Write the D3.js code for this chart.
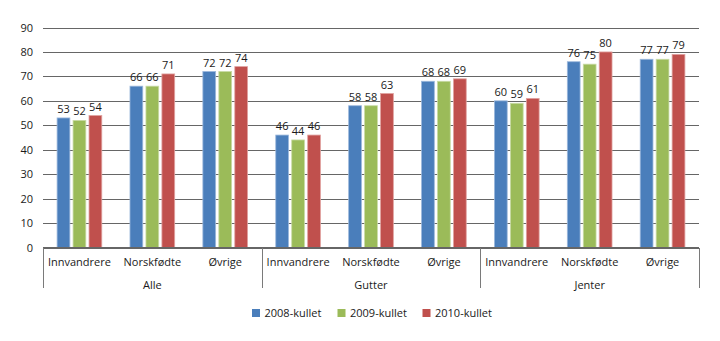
<!DOCTYPE html>
<html>
<head>
<meta charset="utf-8">
<script src="https://cdn.jsdelivr.net/npm/d3@7"></script>
<style>
  html, body { margin: 0; padding: 0; background: #fff; }
  svg { display: block; }
  text { font-family: "Open Sans", "Liberation Sans", sans-serif; fill: #1a1a1a; }
</style>
</head>
<body>
<svg id="chart" width="720" height="341"></svg>
<script>
// Groups and subgroups along the x axis
const groups = ["Alle", "Gutter", "Jenter"];
const subgroups = ["Innvandrere", "Norskfødte", "Øvrige"];
const series = ["2008-kullet", "2009-kullet", "2010-kullet"];
const colors = ["#4a7ebb", "#9bbb59", "#c0504d"];
const strokes = ["#9cb8dc", "#c9dba6", "#e0a2a0"];

// Values per series, ordered group by group, subgroup by subgroup
const v2008 = [53, 66, 72, 46, 58, 68, 60, 76, 77];
const v2009 = [52, 66, 72, 44, 58, 68, 59, 75, 77];
const v2010 = [54, 71, 74, 46, 63, 69, 61, 80, 79];
const yTicks = [0, 10, 20, 30, 40, 50, 60, 70, 80, 90];

const values = [v2008, v2009, v2010];
const cats = [];
groups.forEach(g => subgroups.forEach(s => cats.push({ group: g, sub: s, key: g + "|" + s })));

const svg = d3.select("#chart");
const plotL = 43, plotR = 699, plotT = 27.5, plotB = 247.5;
const gridColor = "#666";

const x = d3.scaleBand().domain(cats.map(c => c.key)).range([plotL, plotR]).paddingInner(0).paddingOuter(0);
const xs = d3.scaleBand().domain(series).range([-22.35, 22.35]).paddingInner(0.2).paddingOuter(0);
const y = d3.scaleLinear().domain([0, 90]).range([plotB, plotT]);

// Gridlines and y tick labels
const yAxis = d3.axisLeft(y).tickValues(yTicks).tickSize(-(plotR - plotL)).tickPadding(10).tickFormat(d3.format("d"));
const gy = svg.append("g").attr("transform", `translate(${plotL},0)`).call(yAxis);
gy.select(".domain").remove();
gy.selectAll(".tick line").attr("stroke", gridColor).attr("stroke-width", 1)
  .attr("shape-rendering", "crispEdges");
gy.selectAll(".tick text").attr("font-size", 11).attr("fill", "#1a1a1a")
  .attr("font-family", "'Open Sans', sans-serif");

// Bars with value labels
const barG = svg.append("g");
series.forEach((s, si) => {
  barG.selectAll(null).data(cats).enter().append("rect")
    .attr("x", (c) => x(c.key) + x.bandwidth() / 2 + xs(s))
    .attr("width", xs.bandwidth())
    .attr("y", (c, i) => y(values[si][i]))
    .attr("height", (c, i) => plotB - y(values[si][i]))
    .attr("fill", colors[si])
    .attr("stroke", strokes[si])
    .attr("stroke-width", 0.8);
  barG.selectAll(null).data(cats).enter().append("text")
    .attr("x", (c) => x(c.key) + x.bandwidth() / 2 + xs(s) + xs.bandwidth() / 2)
    .attr("y", (c, i) => y(values[si][i]) - 5)
    .attr("text-anchor", "middle")
    .attr("font-size", 11)
    .text((c, i) => values[si][i]);
});

// x axis line and category labels
const axisG = svg.append("g");
axisG.append("line").attr("x1", plotL).attr("x2", plotR).attr("y1", plotB).attr("y2", plotB)
  .attr("stroke", gridColor).attr("shape-rendering", "crispEdges");
cats.forEach(c => {
  axisG.append("text")
    .attr("x", x(c.key) + x.bandwidth() / 2)
    .attr("y", 265.5)
    .attr("text-anchor", "middle")
    .attr("font-size", 11)
    .text(c.sub);
});
// Group separators
const groupEdges = [0, 3, 6, 9].map(i => i < 9 ? x(cats[i].key) : plotR);
groupEdges.forEach(gx => {
  axisG.append("line").attr("x1", Math.round(gx) + 0.5).attr("x2", Math.round(gx) + 0.5)
    .attr("y1", plotB).attr("y2", 288)
    .attr("stroke", "#7a7a7a").attr("shape-rendering", "crispEdges");
});
groups.forEach((g, gi) => {
  const x0 = x(cats[gi * 3].key), x1 = x(cats[gi * 3 + 2].key) + x.bandwidth();
  axisG.append("text")
    .attr("x", (x0 + x1) / 2)
    .attr("y", 289)
    .attr("text-anchor", "middle")
    .attr("font-size", 11)
    .text(g);
});

// Legend
const legendX = [252, 337.5, 422.5];
const lg = svg.append("g");
series.forEach((s, si) => {
  lg.append("rect").attr("x", legendX[si]).attr("y", 309).attr("width", 8).attr("height", 8).attr("fill", colors[si]);
  lg.append("text").attr("x", legendX[si] + 12.5).attr("y", 317).attr("font-size", 11).text(s);
});
</script>
</body>
</html>
